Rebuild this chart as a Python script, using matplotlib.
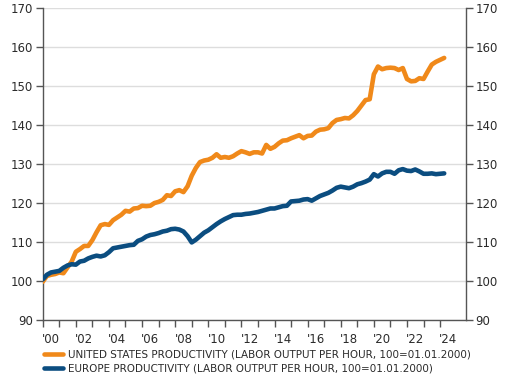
import numpy as np
import matplotlib
matplotlib.use("Agg")
import matplotlib.pyplot as plt

# quarterly index values, 2000Q1 .. 2024Q2
us_productivity = [
    99.8, 101.3, 101.6, 101.8, 102.2, 102.0, 103.5, 105.0,
    107.5, 108.2, 109.0, 109.0, 110.5, 112.5, 114.3, 114.6,
    114.4, 115.6, 116.3, 117.0, 118.0, 117.8, 118.6, 118.7,
    119.3, 119.2, 119.3, 120.0, 120.3, 120.8, 122.0, 121.8,
    123.0, 123.3, 122.8, 124.3, 127.0, 129.0, 130.5, 130.9,
    131.1, 131.6, 132.5, 131.6, 131.8, 131.6, 132.0, 132.7,
    133.3, 133.0, 132.6, 133.0, 133.0, 132.7, 134.9, 133.9,
    134.4, 135.3, 136.0, 136.1, 136.6, 137.0, 137.4, 136.6,
    137.2, 137.3, 138.3, 138.8, 138.9, 139.2, 140.5, 141.3,
    141.5, 141.8, 141.7, 142.5, 143.6, 145.0, 146.4, 146.6,
    153.0, 155.0, 154.3, 154.6, 154.7, 154.6, 154.1, 154.6,
    151.8, 151.2, 151.3, 152.0, 151.8, 153.7, 155.5, 156.2,
    156.7, 157.2,
]
eu_productivity = [
    100.4, 101.6, 102.2, 102.4, 102.6, 103.4, 104.0, 104.3,
    104.2, 105.0, 105.2, 105.8, 106.2, 106.5, 106.3, 106.6,
    107.4, 108.4, 108.6, 108.8, 109.0, 109.2, 109.3, 110.3,
    110.7, 111.4, 111.8, 112.0, 112.3, 112.7, 112.9, 113.3,
    113.4, 113.2, 112.7, 111.5, 109.9, 110.6, 111.5, 112.4,
    113.0, 113.8, 114.6, 115.3, 115.9, 116.4, 116.9, 117.0,
    117.0, 117.2, 117.3, 117.5, 117.7, 118.0, 118.3, 118.6,
    118.6, 118.9, 119.2, 119.3, 120.4, 120.5, 120.6, 120.9,
    121.0, 120.6, 121.2, 121.8, 122.2, 122.6, 123.2, 123.9,
    124.2, 124.0, 123.8, 124.2, 124.8, 125.1, 125.5, 126.0,
    127.4, 126.8, 127.6, 128.0, 128.0, 127.5, 128.4, 128.7,
    128.3, 128.2, 128.6, 128.1, 127.5, 127.5, 127.6, 127.4,
    127.5, 127.6,
]
year_labels = ["'00", "'02", "'04", "'06", "'08", "'10", "'12",
               "'14", "'16", "'18", "'20", "'22", "'24"]
series_names = [
    "UNITED STATES PRODUCTIVITY (LABOR OUTPUT PER HOUR, 100=01.01.2000)",
    "EUROPE PRODUCTIVITY (LABOR OUTPUT PER HOUR, 100=01.01.2000)",
]

ORANGE = "#F0891A"
BLUE = "#0B4D80"
AXIS = "#555555"
TEXT = "#2b2b2b"

plt.rcParams["font.family"] = ["DejaVu Sans"]

t = 2000 + np.arange(len(us_productivity)) * 0.25

fig = plt.figure(figsize=(5.11, 3.81), dpi=100)
ax = fig.add_axes([0.0836, 0.16, 0.8278, 0.819])

ax.plot(t, us_productivity, color=ORANGE, lw=3.3, solid_capstyle="round",
        solid_joinstyle="round", label=series_names[0], zorder=3)
ax.plot(t, eu_productivity, color=BLUE, lw=3.3, solid_capstyle="round",
        solid_joinstyle="round", label=series_names[1], zorder=3)

ax.set_xlim(2000, 2025.55)
ax.set_ylim(90, 170)
ax.set_yticks(np.arange(90, 171, 10))
ax.grid(axis="y", color="#dddddd", lw=1.0, zorder=0)
ax.set_axisbelow(True)

ax.spines["top"].set_visible(False)
for s in ["left", "right", "bottom"]:
    ax.spines[s].set_color(AXIS)
    ax.spines[s].set_linewidth(1.0)

ax.tick_params(axis="y", which="both", left=True, right=True, labelleft=True,
               labelright=True, direction="out", length=5, width=1.0,
               color=AXIS, labelcolor=TEXT, labelsize=8.5, pad=2)

# year boundaries as ticks, labels centred in the year
ax.set_xticks(np.arange(2000, 2025), minor=True)
ax.set_xticks(np.arange(2000, 2025, 2) + 0.5)
ax.set_xticklabels(year_labels)
ax.tick_params(axis="x", which="minor", direction="out", length=5, width=1.0,
               color=AXIS)
ax.tick_params(axis="x", which="major", length=0, labelcolor=TEXT,
               labelsize=8.5, pad=9)

fig.legend(loc="upper left", bbox_to_anchor=(0.086, 0.083), frameon=False,
           fontsize=7.5, handlelength=1.8, handletextpad=0.5,
           labelspacing=0.4, borderaxespad=0, borderpad=0,
           labelcolor=TEXT)

fig.savefig("out.png", dpi=100)
